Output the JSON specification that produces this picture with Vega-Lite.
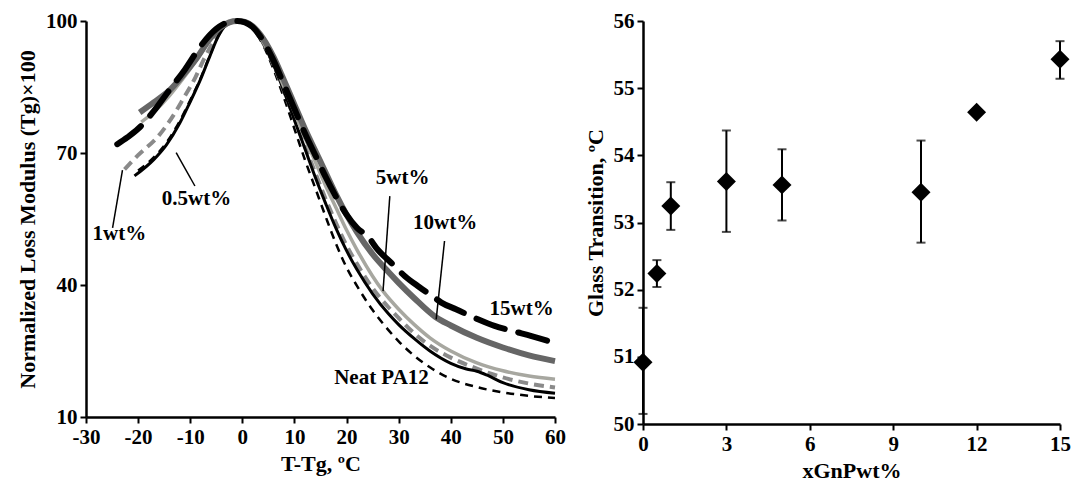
{
  "$schema": "https://vega.github.io/schema/vega-lite/v6.json",
  "background": "white",
  "padding": {"left": 16, "top": 9, "right": 2, "bottom": 2},
  "spacing": 17,
  "config": {
    "font": "Liberation Serif",
    "view": {"stroke": null},
    "axis": {
      "domainColor": "black", "domainWidth": 2.5, "tickColor": "black", "tickWidth": 2, "tickSize": 6,
      "labelFont": "Liberation Serif", "labelFontSize": 21, "labelFontWeight": "bold", "labelColor": "black",
      "titleFont": "Liberation Serif", "titleFontSize": 22, "titleFontWeight": "bold", "titleColor": "black",
      "grid": false, "labelPadding": 3, "titlePadding": 6
    }
  },
  "datasets": {
    "curves": [
      {"s":"Neat","x":-20,"y":66},{"s":"Neat","x":-17,"y":69},{"s":"Neat","x":-14.6,"y":72.3},{"s":"Neat","x":-12,"y":77.3},{"s":"Neat","x":-10,"y":82},{"s":"Neat","x":-8,"y":87},{"s":"Neat","x":-6.3,"y":92},{"s":"Neat","x":-4.5,"y":96.8},{"s":"Neat","x":-2.5,"y":99.7},{"s":"Neat","x":-1,"y":100},{"s":"Neat","x":0.5,"y":99.6},{"s":"Neat","x":2,"y":98.2},{"s":"Neat","x":4,"y":94.5},{"s":"Neat","x":6,"y":89},{"s":"Neat","x":8,"y":82.5},{"s":"Neat","x":10,"y":75.5},{"s":"Neat","x":12,"y":68.5},{"s":"Neat","x":14,"y":62},{"s":"Neat","x":16,"y":55.5},{"s":"Neat","x":18,"y":49.3},{"s":"Neat","x":20,"y":44},{"s":"Neat","x":22,"y":39.8},{"s":"Neat","x":25,"y":34.3},{"s":"Neat","x":28,"y":29.8},{"s":"Neat","x":30,"y":27.2},{"s":"Neat","x":33,"y":23.9},{"s":"Neat","x":36,"y":21.3},{"s":"Neat","x":40,"y":18.7},{"s":"Neat","x":45,"y":16.8},{"s":"Neat","x":50,"y":15.6},{"s":"Neat","x":55,"y":14.8},{"s":"Neat","x":60,"y":14.3},
      {"s":"1wt","x":-22.6,"y":66.3},{"s":"1wt","x":-20,"y":69.5},{"s":"1wt","x":-16,"y":74},{"s":"1wt","x":-13,"y":79},{"s":"1wt","x":-11.4,"y":82.2},{"s":"1wt","x":-9,"y":87.2},{"s":"1wt","x":-7.5,"y":91},{"s":"1wt","x":-5,"y":96.3},{"s":"1wt","x":-3,"y":99.2},{"s":"1wt","x":-1,"y":100},{"s":"1wt","x":0.5,"y":99.7},{"s":"1wt","x":2,"y":98.3},{"s":"1wt","x":4,"y":95},{"s":"1wt","x":6,"y":90},{"s":"1wt","x":8,"y":84},{"s":"1wt","x":10,"y":77.8},{"s":"1wt","x":12,"y":71.5},{"s":"1wt","x":14,"y":65.5},{"s":"1wt","x":16,"y":59.5},{"s":"1wt","x":18,"y":54},{"s":"1wt","x":20,"y":49},{"s":"1wt","x":22,"y":44.8},{"s":"1wt","x":25,"y":39.3},{"s":"1wt","x":28,"y":35},{"s":"1wt","x":30,"y":32.5},{"s":"1wt","x":33,"y":29},{"s":"1wt","x":36,"y":26.2},{"s":"1wt","x":40,"y":23.5},{"s":"1wt","x":45,"y":21},{"s":"1wt","x":50,"y":19},{"s":"1wt","x":55,"y":17.6},{"s":"1wt","x":60,"y":16.7},
      {"s":"0.5wt","x":-20.7,"y":64.8},{"s":"0.5wt","x":-17,"y":68.5},{"s":"0.5wt","x":-14.6,"y":71.8},{"s":"0.5wt","x":-12,"y":76.8},{"s":"0.5wt","x":-10.1,"y":81.4},{"s":"0.5wt","x":-8,"y":86.8},{"s":"0.5wt","x":-6.3,"y":91.8},{"s":"0.5wt","x":-4.5,"y":96.8},{"s":"0.5wt","x":-2.5,"y":99.7},{"s":"0.5wt","x":-1,"y":100},{"s":"0.5wt","x":0.5,"y":99.7},{"s":"0.5wt","x":2,"y":98.5},{"s":"0.5wt","x":4,"y":95},{"s":"0.5wt","x":6,"y":90},{"s":"0.5wt","x":8,"y":84},{"s":"0.5wt","x":10,"y":77.5},{"s":"0.5wt","x":12,"y":71},{"s":"0.5wt","x":14,"y":64.5},{"s":"0.5wt","x":16,"y":58.5},{"s":"0.5wt","x":18,"y":52.8},{"s":"0.5wt","x":20,"y":47.8},{"s":"0.5wt","x":22,"y":43.5},{"s":"0.5wt","x":25,"y":38},{"s":"0.5wt","x":28,"y":33.5},{"s":"0.5wt","x":30,"y":31},{"s":"0.5wt","x":33,"y":27.8},{"s":"0.5wt","x":36,"y":25},{"s":"0.5wt","x":40,"y":22.2},{"s":"0.5wt","x":43,"y":20.9},{"s":"0.5wt","x":45,"y":20.4},{"s":"0.5wt","x":47,"y":19.5},{"s":"0.5wt","x":50,"y":17.8},{"s":"0.5wt","x":55,"y":16.2},{"s":"0.5wt","x":60,"y":15.4},
      {"s":"5wt","x":-19.4,"y":77},{"s":"5wt","x":-17,"y":79.3},{"s":"5wt","x":-14,"y":83},{"s":"5wt","x":-11,"y":87.5},{"s":"5wt","x":-8,"y":92.5},{"s":"5wt","x":-5.5,"y":96.8},{"s":"5wt","x":-3,"y":99.5},{"s":"5wt","x":-1,"y":100},{"s":"5wt","x":0.5,"y":99.7},{"s":"5wt","x":2,"y":98.5},{"s":"5wt","x":4,"y":95.2},{"s":"5wt","x":6,"y":90.5},{"s":"5wt","x":8,"y":85},{"s":"5wt","x":10,"y":79.3},{"s":"5wt","x":12,"y":73.5},{"s":"5wt","x":14,"y":68},{"s":"5wt","x":16,"y":62.5},{"s":"5wt","x":18,"y":57.5},{"s":"5wt","x":20,"y":52.5},{"s":"5wt","x":22,"y":48},{"s":"5wt","x":25,"y":42},{"s":"5wt","x":27,"y":38.6},{"s":"5wt","x":30,"y":34.5},{"s":"5wt","x":33,"y":31},{"s":"5wt","x":36,"y":28},{"s":"5wt","x":40,"y":25},{"s":"5wt","x":45,"y":22.3},{"s":"5wt","x":50,"y":20.5},{"s":"5wt","x":55,"y":19.3},{"s":"5wt","x":60,"y":18.6},
      {"s":"10wt","x":-19.7,"y":79.2},{"s":"10wt","x":-17,"y":81.5},{"s":"10wt","x":-14,"y":84.2},{"s":"10wt","x":-11,"y":88.2},{"s":"10wt","x":-8.8,"y":91.5},{"s":"10wt","x":-6.5,"y":95.5},{"s":"10wt","x":-4.5,"y":98.3},{"s":"10wt","x":-2.5,"y":99.7},{"s":"10wt","x":-1,"y":100},{"s":"10wt","x":0.5,"y":99.8},{"s":"10wt","x":2,"y":98.8},{"s":"10wt","x":4,"y":96},{"s":"10wt","x":6,"y":91.8},{"s":"10wt","x":8,"y":86.5},{"s":"10wt","x":10,"y":81},{"s":"10wt","x":12,"y":75.5},{"s":"10wt","x":14,"y":70.5},{"s":"10wt","x":16,"y":65.5},{"s":"10wt","x":18,"y":60.5},{"s":"10wt","x":20,"y":56},{"s":"10wt","x":22,"y":52},{"s":"10wt","x":25,"y":47},{"s":"10wt","x":28,"y":43},{"s":"10wt","x":30,"y":40.5},{"s":"10wt","x":33,"y":37},{"s":"10wt","x":37,"y":32.8},{"s":"10wt","x":40,"y":30.8},{"s":"10wt","x":45,"y":28},{"s":"10wt","x":50,"y":25.8},{"s":"10wt","x":55,"y":24},{"s":"10wt","x":60,"y":22.7},
      {"s":"15wt","x":-24,"y":72},{"s":"15wt","x":-22,"y":73.6},{"s":"15wt","x":-20,"y":75.5},{"s":"15wt","x":-17,"y":79.5},{"s":"15wt","x":-14,"y":84.3},{"s":"15wt","x":-11,"y":89},{"s":"15wt","x":-8,"y":94.3},{"s":"15wt","x":-5,"y":98.2},{"s":"15wt","x":-2.5,"y":99.8},{"s":"15wt","x":-1,"y":100},{"s":"15wt","x":0.5,"y":99.7},{"s":"15wt","x":2,"y":98.6},{"s":"15wt","x":4,"y":95.5},{"s":"15wt","x":6,"y":91},{"s":"15wt","x":8,"y":85.5},{"s":"15wt","x":10,"y":80},{"s":"15wt","x":12,"y":74.5},{"s":"15wt","x":14,"y":69.5},{"s":"15wt","x":16,"y":64.5},{"s":"15wt","x":18,"y":60},{"s":"15wt","x":20,"y":56},{"s":"15wt","x":22,"y":53},{"s":"15wt","x":24.1,"y":51},{"s":"15wt","x":26,"y":48},{"s":"15wt","x":28.6,"y":45},{"s":"15wt","x":31.2,"y":42},{"s":"15wt","x":34,"y":39.5},{"s":"15wt","x":36.9,"y":37.1},{"s":"15wt","x":38.2,"y":36},{"s":"15wt","x":41,"y":34.5},{"s":"15wt","x":45.2,"y":32.2},{"s":"15wt","x":48.4,"y":30.7},{"s":"15wt","x":52,"y":29.5},{"s":"15wt","x":55.5,"y":28.4},{"s":"15wt","x":60,"y":26.8}
    ],
    "labels": [
      {"t":"1wt%","x":-23.6,"y":51.6},
      {"t":"0.5wt%","x":-8.8,"y":59.5},
      {"t":"5wt%","x":30.75,"y":64.4},
      {"t":"10wt%","x":38.9,"y":54.2},
      {"t":"15wt%","x":53.6,"y":34.5},
      {"t":"Neat PA12","x":26.7,"y":18.9}
    ],
    "pointers": [
      {"x":-24.9,"y":53.0,"x2":-23.0,"y2":66.1},
      {"x":-12.7,"y":70.1,"x2":-9.1,"y2":62.5},
      {"x":28.3,"y":60.2,"x2":27.0,"y2":38.6},
      {"x":38.8,"y":50.0,"x2":37.2,"y2":32.2}
    ],
    "tg": [
      {"w":0,"tg":50.92,"lo":50.15,"hi":51.73},
      {"w":0.5,"tg":52.24,"lo":52.04,"hi":52.44},
      {"w":1,"tg":53.245,"lo":52.89,"hi":53.6},
      {"w":3,"tg":53.61,"lo":52.86,"hi":54.37},
      {"w":5,"tg":53.56,"lo":53.03,"hi":54.09},
      {"w":10,"tg":53.45,"lo":52.70,"hi":54.22},
      {"w":12,"tg":54.64,"lo":null,"hi":null},
      {"w":15,"tg":55.43,"lo":55.14,"hi":55.70}
    ]
  },
  "hconcat": [
    {
      "width": 469,
      "height": 396,
      "encoding": {
        "x": {"field": "x", "type": "quantitative", "scale": {"domain": [-30, 60], "nice": false, "zero": false},
              "axis": {"values": [-30, -20, -10, 0, 10, 20, 30, 40, 50, 60], "title": "T-Tg, ºC", "labelFlush": false, "labelExpr": "'' + datum.value"}},
        "y": {"field": "y", "type": "quantitative", "scale": {"domain": [10, 100], "nice": false, "zero": false},
              "axis": {"values": [10, 40, 70, 100], "title": "Normalized Loss Modulus (Tg)×100", "labelFlush": false}}
      },
      "layer": [
        {"data": {"name": "curves"}, "transform": [{"filter": "datum.s === 'Neat'"}],
         "mark": {"type": "line", "color": "black", "strokeWidth": 2.5, "strokeDash": [8, 6], "interpolate": "monotone"}},
        {"data": {"name": "curves"}, "transform": [{"filter": "datum.s === '1wt'"}],
         "mark": {"type": "line", "color": "#8a8a8a", "strokeWidth": 4, "strokeDash": [10, 6], "interpolate": "monotone"}},
        {"data": {"name": "curves"}, "transform": [{"filter": "datum.s === '0.5wt'"}],
         "mark": {"type": "line", "color": "black", "strokeWidth": 3, "interpolate": "monotone"}},
        {"data": {"name": "curves"}, "transform": [{"filter": "datum.s === '5wt'"}],
         "mark": {"type": "line", "color": "#a7a7a0", "strokeWidth": 3.5, "interpolate": "monotone"}},
        {"data": {"name": "curves"}, "transform": [{"filter": "datum.s === '10wt'"}],
         "mark": {"type": "line", "color": "#666666", "strokeWidth": 6, "interpolate": "monotone"}},
        {"data": {"name": "curves"}, "transform": [{"filter": "datum.s === '15wt'"}],
         "mark": {"type": "line", "color": "black", "strokeWidth": 6, "strokeDash": [30, 14], "strokeCap": "round", "interpolate": "monotone"}},
        {"data": {"name": "pointers"},
         "mark": {"type": "rule", "color": "black", "strokeWidth": 1.5},
         "encoding": {"x2": {"field": "x2"}, "y2": {"field": "y2"}}},
        {"data": {"name": "labels"},
         "mark": {"type": "text", "font": "Liberation Serif", "fontSize": 21, "fontWeight": "bold", "color": "black"},
         "encoding": {"text": {"field": "t"}}}
      ]
    },
    {
      "width": 417,
      "height": 403,
      "encoding": {
        "x": {"field": "w", "type": "quantitative", "scale": {"domain": [0, 15], "nice": false},
              "axis": {"values": [0, 3, 6, 9, 12, 15], "title": "xGnPwt%", "labelFlush": false}}
      },
      "layer": [
        {"data": {"name": "tg"}, "transform": [{"filter": "datum.lo != null"}],
         "mark": {"type": "errorbar", "color": "black", "thickness": 2, "ticks": {"size": 9, "thickness": 2, "color": "black"}},
         "encoding": {
           "y": {"field": "lo", "type": "quantitative", "scale": {"domain": [50, 56], "nice": false, "zero": false},
                 "axis": {"values": [50, 51, 52, 53, 54, 55, 56], "format": "d", "title": "Glass Transition, ºC", "labelFlush": false}},
           "y2": {"field": "hi"}
         }},
        {"data": {"name": "tg"},
         "mark": {"type": "point", "shape": "diamond", "filled": true, "size": 360, "color": "black", "opacity": 1},
         "encoding": {
           "y": {"field": "tg", "type": "quantitative", "scale": {"domain": [50, 56], "nice": false, "zero": false}}
         }}
      ]
    }
  ]
}
